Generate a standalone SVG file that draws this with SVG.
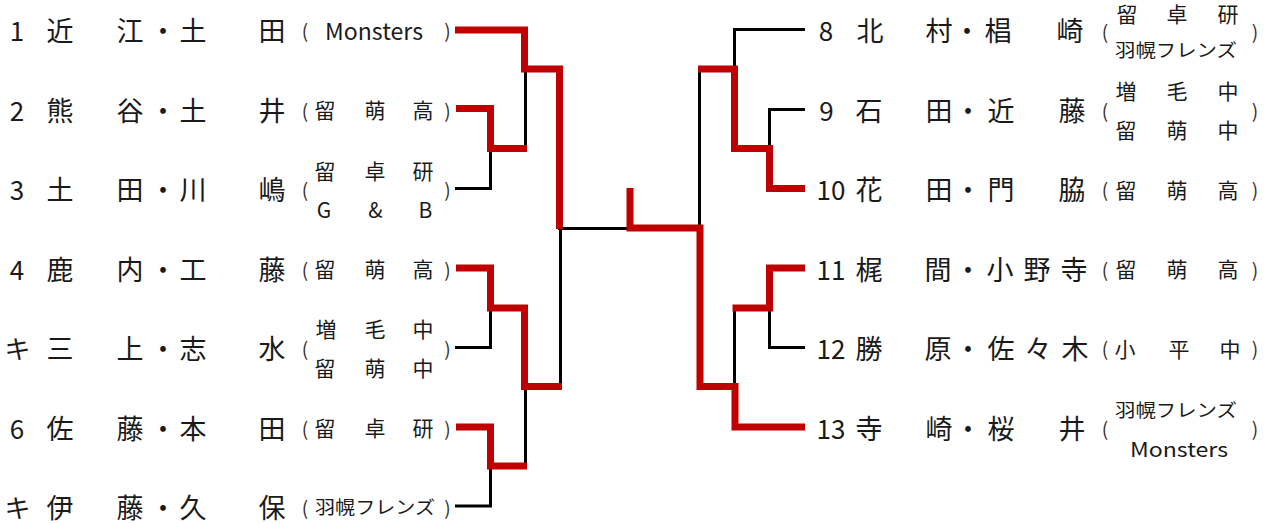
<svg xmlns="http://www.w3.org/2000/svg" width="1272" height="524" viewBox="0 0 1272 524">
<style>
text{font-family:"Noto Sans CJK JP","Noto Sans",sans-serif;fill:#1a1a1a;dominant-baseline:central;text-anchor:middle}
.n{font-size:27px}
.d{font-size:26px}
.a{font-size:21px}
.p{font-size:19px;fill:#333}
.s{font-size:18px}
.bk{fill:none;stroke:#000;stroke-width:3}
.rd{fill:none;stroke:#C00000;stroke-width:7;stroke-linejoin:miter}
</style>
<rect width="1272" height="524" fill="#fff"/>
<g id="connectors">
<path class="bk" d="M455,188.5H490.5V148.5M525.5,148.5V69M560.5,228.5V386.5M558,228.5H630M455,347.5H490.5V308M455,506H490.5V466M525.5,466V386.5"/>
<path class="bk" d="M699.5,69V228M805,29.5H734.5V69M805,109.5H769.5V148.5M805,347.5H769.5V308M734.5,308V386.5"/>
<path class="rd" d="M455,30H524.5V69H559.5V229"/>
<path class="rd" d="M456,108.5H490.5V148.5H527"/>
<path class="rd" d="M456,268H490.5V308H524.5V386.5H562"/>
<path class="rd" d="M456,427H490.5V466H527"/>
<path class="rd" d="M630,188V228H700V386.5H735V427H805"/>
<path class="rd" d="M698,69H734.5V148.5H769.5V188.5H805"/>
<path class="rd" d="M805,268H769.5V308H732.5"/>
</g>
<g id="e1">
<text class="d" x="17" y="29.5">1</text><text class="n" x="60" y="29.5">近</text><text class="n" x="130" y="29.5">江</text><text class="n" x="163" y="29.5">・</text><text class="n" x="193" y="29.5">土</text><text class="n" x="272" y="29.5">田</text>
<text class="p" x="305" y="29.5">(</text><text class="a" x="374" y="29.5" textLength="98" lengthAdjust="spacingAndGlyphs" style="font-size:23px">Monsters</text><text class="p" x="447.5" y="29.5">)</text>
</g>
<g id="e2">
<text class="d" x="17" y="109">2</text><text class="n" x="60" y="109">熊</text><text class="n" x="130" y="109">谷</text><text class="n" x="163" y="109">・</text><text class="n" x="193" y="109">土</text><text class="n" x="272" y="109">井</text>
<text class="p" x="305" y="109">(</text><text class="a" x="325" y="109">留</text><text class="a" x="375" y="109">萌</text><text class="a" x="423" y="109">高</text><text class="p" x="447.5" y="109">)</text>
</g>
<g id="e3">
<text class="d" x="17" y="188.5">3</text><text class="n" x="60" y="188.5">土</text><text class="n" x="130" y="188.5">田</text><text class="n" x="163" y="188.5">・</text><text class="n" x="193" y="188.5">川</text><text class="n" x="272" y="188.5">嶋</text>
<text class="p" x="305" y="188.5">(</text><text class="a" x="325" y="169.5">留</text><text class="a" x="375" y="169.5">卓</text><text class="a" x="423" y="169.5">研</text>
<text class="a" x="324" y="209">G</text><text class="a" x="375.5" y="209">&amp;</text><text class="a" x="425.5" y="209">B</text><text class="p" x="447.5" y="188.5">)</text>
</g>
<g id="e4">
<text class="d" x="17" y="268">4</text><text class="n" x="60" y="268">鹿</text><text class="n" x="130" y="268">内</text><text class="n" x="163" y="268">・</text><text class="n" x="193" y="268">工</text><text class="n" x="272" y="268">藤</text>
<text class="p" x="305" y="268">(</text><text class="a" x="325" y="268">留</text><text class="a" x="375" y="268">萌</text><text class="a" x="423" y="268">高</text><text class="p" x="447.5" y="268">)</text>
</g>
<g id="e5">
<text class="d" x="17.5" y="347.5">キ</text><text class="n" x="60" y="347.5">三</text><text class="n" x="130" y="347.5">上</text><text class="n" x="163" y="347.5">・</text><text class="n" x="193" y="347.5">志</text><text class="n" x="272" y="347.5">水</text>
<text class="p" x="305" y="347.5">(</text><text class="a" x="326" y="328">増</text><text class="a" x="375" y="328">毛</text><text class="a" x="423" y="328">中</text>
<text class="a" x="325" y="367">留</text><text class="a" x="375" y="367">萌</text><text class="a" x="423" y="367">中</text><text class="p" x="447.5" y="347.5">)</text>
</g>
<g id="e6">
<text class="d" x="17" y="427">6</text><text class="n" x="60" y="427">佐</text><text class="n" x="130" y="427">藤</text><text class="n" x="163" y="427">・</text><text class="n" x="193" y="427">本</text><text class="n" x="272" y="427">田</text>
<text class="p" x="305" y="427">(</text><text class="a" x="325" y="427">留</text><text class="a" x="375" y="427">卓</text><text class="a" x="423" y="427">研</text><text class="p" x="447.5" y="427">)</text>
</g>
<g id="e7">
<text class="d" x="17.5" y="506">キ</text><text class="n" x="60" y="506">伊</text><text class="n" x="130" y="506">藤</text><text class="n" x="163" y="506">・</text><text class="n" x="193" y="506">久</text><text class="n" x="272" y="506">保</text>
<text class="p" x="305" y="506">(</text><text class="s" x="375" y="506" textLength="120" lengthAdjust="spacingAndGlyphs">羽幌フレンズ</text><text class="p" x="447.5" y="506">)</text>
</g>
<g id="e8">
<text class="d" x="826" y="29.5">8</text><text class="n" x="870" y="29.5">北</text><text class="n" x="939" y="29.5">村</text><text class="n" x="967" y="29.5">・</text><text class="n" x="998" y="29.5">椙</text><text class="n" x="1070" y="29.5">崎</text>
<text class="p" x="1105" y="30.5">(</text><text class="a" x="1127" y="12.5">留</text><text class="a" x="1177" y="12.5">卓</text><text class="a" x="1228" y="12.5">研</text>
<text class="s" x="1176" y="49" textLength="122" lengthAdjust="spacingAndGlyphs">羽幌フレンズ</text><text class="p" x="1255" y="30.5">)</text>
</g>
<g id="e9">
<text class="d" x="826.5" y="109">9</text><text class="n" x="869" y="109">石</text><text class="n" x="939" y="109">田</text><text class="n" x="968" y="109">・</text><text class="n" x="1001" y="109">近</text><text class="n" x="1072" y="109">藤</text>
<text class="p" x="1105" y="109">(</text><text class="a" x="1126" y="90">増</text><text class="a" x="1177" y="90">毛</text><text class="a" x="1228" y="90">中</text>
<text class="a" x="1126" y="129">留</text><text class="a" x="1177" y="129">萌</text><text class="a" x="1228" y="129">中</text><text class="p" x="1255" y="109">)</text>
</g>
<g id="e10">
<text class="d" x="831" y="188.5">10</text><text class="n" x="869" y="188.5">花</text><text class="n" x="939" y="188.5">田</text><text class="n" x="968" y="188.5">・</text><text class="n" x="1001" y="188.5">門</text><text class="n" x="1072" y="188.5">脇</text>
<text class="p" x="1105" y="188.5">(</text><text class="a" x="1126" y="188.5">留</text><text class="a" x="1177" y="188.5">萌</text><text class="a" x="1228" y="188.5">高</text><text class="p" x="1255" y="188.5">)</text>
</g>
<g id="e11">
<text class="d" x="831" y="268">11</text><text class="n" x="869" y="268">梶</text><text class="n" x="938" y="268">間</text><text class="n" x="968" y="268">・</text><text class="n" x="1000" y="268">小</text><text class="n" x="1037" y="268">野</text><text class="n" x="1074" y="268">寺</text>
<text class="p" x="1105" y="268">(</text><text class="a" x="1126" y="268">留</text><text class="a" x="1177" y="268">萌</text><text class="a" x="1228" y="268">高</text><text class="p" x="1255" y="268">)</text>
</g>
<g id="e12">
<text class="d" x="831" y="347.5">12</text><text class="n" x="869" y="347.5">勝</text><text class="n" x="938" y="347.5">原</text><text class="n" x="968" y="347.5">・</text><text class="n" x="1001" y="347.5">佐</text><text class="n" x="1038" y="347.5">々</text><text class="n" x="1075" y="347.5">木</text>
<text class="p" x="1105" y="347.5">(</text><text class="a" x="1125" y="347.5">小</text><text class="a" x="1179" y="347.5">平</text><text class="a" x="1230" y="347.5">中</text><text class="p" x="1255" y="347.5">)</text>
</g>
<g id="e13">
<text class="d" x="831" y="427">13</text><text class="n" x="869" y="427">寺</text><text class="n" x="939" y="427">崎</text><text class="n" x="968" y="427">・</text><text class="n" x="1001" y="427">桜</text><text class="n" x="1072" y="427">井</text>
<text class="p" x="1105" y="427">(</text><text class="s" x="1176" y="408.5" textLength="122" lengthAdjust="spacingAndGlyphs">羽幌フレンズ</text>
<text class="a" x="1179" y="448.5" textLength="98" lengthAdjust="spacingAndGlyphs" style="font-size:20px">Monsters</text><text class="p" x="1255" y="427">)</text>
</g>
</svg>
